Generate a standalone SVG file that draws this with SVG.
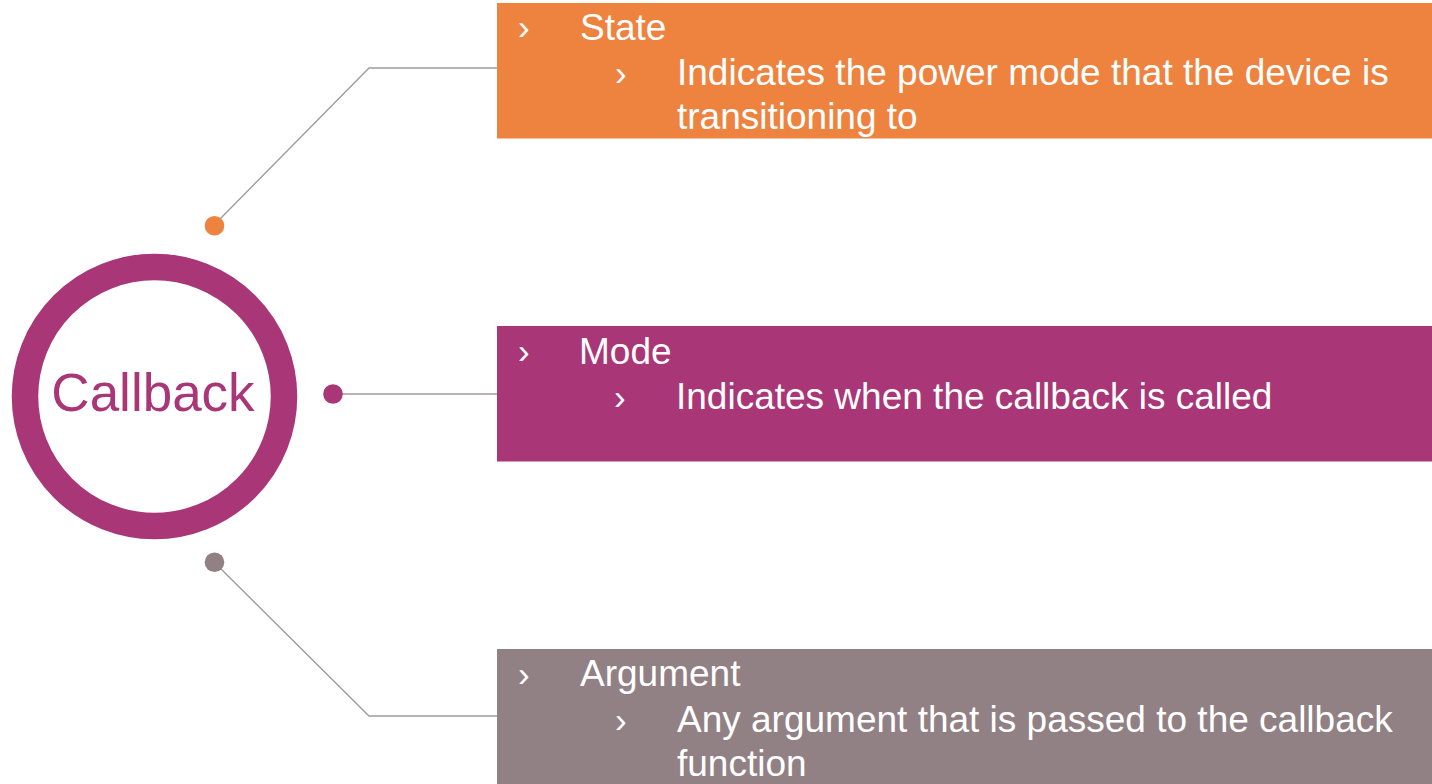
<svg xmlns="http://www.w3.org/2000/svg" width="1432" height="784" viewBox="0 0 1432 784">
  <style>
    .txt { font-family: "Liberation Sans", Arial, Helvetica, sans-serif; fill: #ffffff; font-size: 37px; }
    .bul { font-family: "Liberation Sans", Arial, Helvetica, sans-serif; fill: #ffffff; font-size: 35px; }
    .conn { fill: none; stroke: #a39a9c; stroke-width: 1.4; }
    .title { font-family: "Liberation Sans", Arial, Helvetica, sans-serif; font-size: 53px; fill: #a93676; }
  </style>
  <rect width="1432" height="784" fill="#ffffff"/>

  <!-- connectors -->
  <g id="connectors">
    <polyline class="conn" points="219,220 369,68 497,68"/>
    <line class="conn" x1="340" y1="394" x2="497" y2="394"/>
    <polyline class="conn" points="219,567 369,716 497,716"/>
    <circle cx="214.5" cy="225.8" r="9.8" fill="#ee833f"/>
    <circle cx="333" cy="394" r="9.8" fill="#a93676"/>
    <circle cx="214.5" cy="562.3" r="9.8" fill="#928184"/>
  </g>

  <!-- central ring -->
  <g id="callback">
    <circle cx="154.5" cy="396.5" r="129.5" fill="none" stroke="#a93676" stroke-width="26.5"/>
    <text class="title" x="153" y="411" text-anchor="middle">Callback</text>
  </g>

  <!-- State -->
  <g id="state">
    <rect x="497" y="3" width="935" height="135.5" fill="#ee833f"/>
    <text class="bul" x="518" y="39">›</text>
    <text class="txt" x="580" y="40">State</text>
    <text class="bul" x="615" y="85">›</text>
    <text class="txt" x="677" y="85">Indicates the power mode that the device is</text>
    <text class="txt" x="677" y="129">transitioning to</text>
  </g>

  <!-- Mode -->
  <g id="mode">
    <rect x="497" y="326" width="935" height="135.5" fill="#a93676"/>
    <text class="bul" x="518" y="363">›</text>
    <text class="txt" x="579" y="363.5">Mode</text>
    <text class="bul" x="614" y="409">›</text>
    <text class="txt" x="676" y="409">Indicates when the callback is called</text>
  </g>

  <!-- Argument -->
  <g id="argument">
    <rect x="497" y="649" width="935" height="135" fill="#928184"/>
    <text class="bul" x="518" y="686">›</text>
    <text class="txt" x="580" y="686">Argument</text>
    <text class="bul" x="615" y="732">›</text>
    <text class="txt" x="677" y="732">Any argument that is passed to the callback</text>
    <text class="txt" x="677" y="776">function</text>
  </g>
</svg>
